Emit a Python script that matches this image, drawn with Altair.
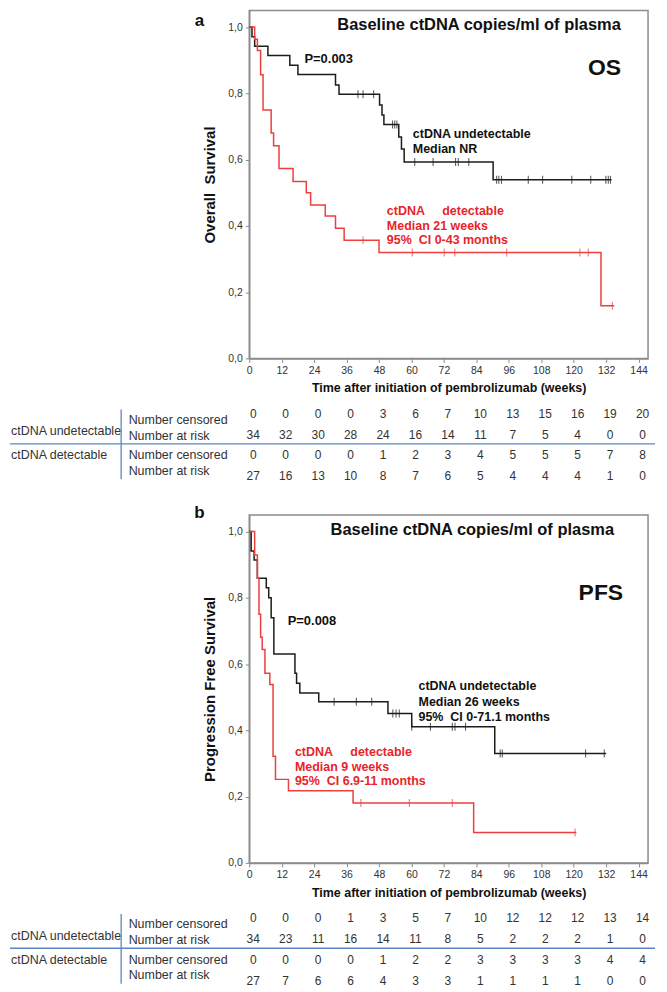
import altair as alt
import pandas as pd

# ---------------- values ----------------
weeks = [0, 12, 24, 36, 48, 60, 72, 84, 96, 108, 120, 132, 144]

# Panel a : overall survival
os_undet_t = [0, 1.0, 2.0, 6.9, 15.0, 18.0, 31.9, 33.2, 48.2, 49.1, 49.8, 55.3, 56.3, 57.3, 90.2, 134.0]
os_undet_s = [1.0, 0.971, 0.942, 0.914, 0.885, 0.857, 0.825, 0.797, 0.765, 0.735, 0.706, 0.668, 0.632, 0.593, 0.539, 0.539]
os_undet_cens = [40.2, 42.1, 46.0, 53.0, 53.8, 54.6, 61.2, 68.0, 76.3, 77.3, 81.2, 91.5, 92.3, 93.3,
                 103.2, 108.5, 119.3, 126.3, 131.9, 132.8, 133.6]
os_det_t = [0, 2.0, 3.0, 4.2, 5.1, 8.1, 9.0, 11.0, 16.2, 21.1, 22.7, 28.1, 31.9, 35.1, 48.0, 130.1, 135.0]
os_det_s = [1.0, 0.963, 0.929, 0.856, 0.75, 0.68, 0.642, 0.573, 0.534, 0.5, 0.463, 0.43, 0.393, 0.357, 0.32, 0.159, 0.159]
os_det_cens = [42.1, 60.3, 72.1, 76.0, 95.2, 122.3, 125.4, 134.3]

os_undet_censored = [0, 0, 0, 0, 3, 6, 7, 10, 13, 15, 16, 19, 20]
os_undet_risk = [34, 32, 30, 28, 24, 16, 14, 11, 7, 5, 4, 0, 0]
os_det_censored = [0, 0, 0, 0, 1, 2, 3, 4, 5, 5, 5, 7, 8]
os_det_risk = [27, 16, 13, 10, 8, 7, 6, 5, 4, 4, 4, 1, 0]

# Panel b : progression free survival
pfs_undet_t = [0, 0.7, 1.8, 3.0, 6.3, 7.2, 8.1, 9.1, 16.9, 17.5, 18.7, 25.7, 51.3, 60.1, 90.8, 132.0]
pfs_undet_s = [1.0, 0.941, 0.914, 0.859, 0.83, 0.80, 0.74, 0.63, 0.572, 0.542, 0.513, 0.486, 0.451, 0.411, 0.33, 0.33]
pfs_undet_cens = [31.4, 39.6, 45.3, 53.1, 54.3, 55.5, 60.1, 67.0, 75.1, 76.1, 80.0, 92.8, 93.6, 124.4, 131.3]
pfs_det_t = [0, 2.0, 3.0, 3.6, 4.2, 4.8, 5.8, 7.6, 8.8, 9.7, 14.5, 38.4, 83.0, 121.0]
pfs_det_s = [1.0, 0.929, 0.859, 0.75, 0.681, 0.644, 0.572, 0.538, 0.322, 0.252, 0.218, 0.181, 0.092, 0.092]
pfs_det_cens = [41.3, 59.2, 75.1, 120.5]

pfs_undet_censored = [0, 0, 0, 1, 3, 5, 7, 10, 12, 12, 12, 13, 14]
pfs_undet_risk = [34, 23, 11, 16, 14, 11, 8, 5, 2, 2, 2, 1, 0]
pfs_det_censored = [0, 0, 0, 0, 1, 2, 2, 3, 3, 3, 3, 4, 4]
pfs_det_risk = [27, 7, 6, 6, 4, 3, 3, 1, 1, 1, 1, 0, 0]

# ---------------- styling ----------------
FONT = "Liberation Sans"
BLACK = "#1c1c1c"
RED_LINE = "#ee3f3f"
RED_TEXT = "#e8242b"
GRAY = "#8c8c8c"
BLUE = "#5b87c5"
W = 400
H = 349
NBSP = "\u00a0"


def surv_at(t, times, vals):
    s = vals[0]
    for tt, vv in zip(times, vals):
        if tt <= t:
            s = vv
    return s


def panel(letter, ytitle, tag, und_t, und_s, und_c, det_t, det_s, det_c,
          p_text, p_pos, black_lines, black_pos, red_lines, red_pos, title_x,
          tag_x, tag_y, letter_y, tab):
    xs = alt.Scale(domain=[0, 147.5], nice=False, zero=False)
    ys = alt.Scale(domain=[0, 1.05], nice=False, zero=False)
    ax_x = alt.Axis(values=weeks, title="Time after initiation of pembrolizumab (weeks)",
                    grid=False, domainColor=GRAY, domainWidth=1.5, tickColor=GRAY,
                    tickSize=4, labelFontSize=10.5, labelColor="#333", labelPadding=3,
                    titleFontSize=12.5, titleFontWeight="bold", titleColor="#111",
                    titlePadding=6, labelFlush=False)
    ax_y = alt.Axis(values=[0, 0.2, 0.4, 0.6, 0.8, 1.0],
                    labelExpr="replace(format(datum.value, '.1f'), '.', ',')",
                    title=ytitle, grid=False, domainColor=GRAY, domainWidth=1.5,
                    tickColor=GRAY, tickSize=4, labelFontSize=10.5, labelColor="#333",
                    labelPadding=3, titleFontSize=15, titleFontWeight="bold",
                    titleColor="#111", titlePadding=10)
    X = alt.X("week:Q", scale=xs, axis=ax_x)
    Y = alt.Y("val:Q", scale=ys, axis=ax_y)

    def line(t, s, col):
        df = pd.DataFrame({"week": t, "val": s})
        return alt.Chart(df).mark_line(interpolate="step-after", color=col, strokeWidth=1.5).encode(x=X, y=Y)

    def ticks(c, t, s, col):
        df = pd.DataFrame({"week": c, "val": [surv_at(x, t, s) for x in c]})
        return alt.Chart(df).mark_tick(orient="vertical", size=8, thickness=1.1, color=col).encode(x=X, y=Y)

    ann = []
    ann.append({"week": title_x, "val": 1.005, "text": "Baseline ctDNA copies/ml of plasma",
                "col": "#111", "fs": 16.5, "al": "center"})
    ann.append({"week": tag_x, "val": tag_y, "text": tag, "col": "#111", "fs": 23, "al": "right"})
    ann.append({"week": p_pos[0], "val": p_pos[1], "text": p_text, "col": "#111", "fs": 13, "al": "left"})
    for i, tx in enumerate(black_lines):
        ann.append({"week": black_pos[0], "val": black_pos[1] - i * 0.0465, "text": tx,
                    "col": "#111", "fs": 12.5, "al": "left"})
    for i, tx in enumerate(red_lines):
        ann.append({"week": red_pos[0], "val": red_pos[1] - i * 0.0435, "text": tx,
                    "col": RED_TEXT, "fs": 12.5, "al": "left"})
    ann_df = pd.DataFrame(ann)

    def txt(al):
        return alt.Chart(ann_df).transform_filter(alt.datum.al == al).mark_text(
            align=al, baseline="middle", fontWeight="bold").encode(
            x=X, y=Y, text="text:N", color=alt.Color("col:N", scale=None),
            size=alt.Size("fs:Q", scale=None))

    letter_df = pd.DataFrame({"val": [letter_y], "text": [letter]})
    letter_mark = alt.Chart(letter_df).mark_text(align="center", baseline="middle", fontWeight="bold",
                                                 fontSize=17, color="#111").encode(
        x=alt.value(-50), y=Y, text="text:N")

    km = alt.layer(line(und_t, und_s, BLACK), line(det_t, det_s, RED_LINE),
                   ticks(und_c, und_t, und_s, BLACK), ticks(det_c, det_t, det_s, RED_LINE),
                   txt("left"), txt("center"), txt("right"), letter_mark)

    # ----- number-at-risk table -----
    ts = alt.Scale(domain=[0, 3], range=[H + 55.5, H + 118], nice=False, zero=False)
    TY = alt.Y("row:Q", scale=ts, axis=None)
    rows = []
    for r, vals in enumerate(tab):
        for w, v in zip(weeks, vals):
            rows.append({"week": w, "row": r, "text": str(v)})
    num_df = pd.DataFrame(rows)
    nums = alt.Chart(num_df).mark_text(align="center", baseline="middle", fontSize=12,
                                       color="#333", dx=4).encode(x=X, y=TY, text="text:N")
    grp_df = pd.DataFrame({"row": [0.85, 2.0], "text": ["ctDNA undetectable", "ctDNA detectable"]})
    grp = alt.Chart(grp_df).mark_text(align="left", baseline="middle", fontSize=12.5, color="#333").encode(
        x=alt.value(-239), y=TY, text="text:N")
    lab_df = pd.DataFrame({"row": [0.3, 1.05, 2.0, 2.75],
                           "text": ["Number censored", "Number at risk", "Number censored", "Number at risk"]})
    lab = alt.Chart(lab_df).mark_text(align="left", baseline="middle", fontSize=12.5, color="#333").encode(
        x=alt.value(-121), y=TY, text="text:N")
    vrule = alt.Chart(pd.DataFrame({"row": [-0.2], "row2": [3.15]})).mark_rule(
        color=BLUE, strokeWidth=1.3).encode(x=alt.value(-128.5), y=TY, y2="row2:Q")
    hrule = alt.Chart(pd.DataFrame({"row": [1.45]})).mark_rule(color=BLUE, strokeWidth=1.5).encode(
        x=alt.value(-240), x2=alt.value(W + 7), y=TY)
    tbl = alt.layer(nums, grp, lab, vrule, hrule)

    return alt.layer(km, tbl).resolve_scale(y="independent").properties(width=W, height=H)


pa = panel("a", "Overall" + NBSP + NBSP + "Survival", "OS",
           os_undet_t, os_undet_s, os_undet_cens, os_det_t, os_det_s, os_det_cens,
           "P=0.003", (20.4, 0.903),
           ["ctDNA undetectable", "Median NR"], (60.5, 0.677),
           ["ctDNA" + NBSP * 5 + "detectable", "Median 21 weeks", "95%" + NBSP + " CI 0-43 months"], (50.9, 0.444),
           85.0, 137.5, 0.875, 1.017,
           [os_undet_censored, os_undet_risk, os_det_censored, os_det_risk])

pb = panel("b", "Progression Free Survival", "PFS",
           pfs_undet_t, pfs_undet_s, pfs_undet_cens, pfs_det_t, pfs_det_s, pfs_det_cens,
           "P=0.008", (14.2, 0.73),
           ["ctDNA undetectable", "Median 26 weeks", "95%" + NBSP + " CI 0-71.1 months"], (62.6, 0.5325),
           ["ctDNA" + NBSP * 5 + "detectable", "Median 9 weeks", "95%" + NBSP + " CI 6.9-11 months"], (16.9, 0.334),
           82.5, 138.3, 0.815, 1.056,
           [pfs_undet_censored, pfs_undet_risk, pfs_det_censored, pfs_det_risk])

chart = alt.vconcat(pa, pb, spacing=20).properties(
    padding={"left": 0, "right": 2, "top": 0, "bottom": 0}
).configure(font=FONT).configure_view(stroke=GRAY, strokeWidth=1.5)

chart.save("out.html", embed_options={"renderer": "svg", "actions": False})
